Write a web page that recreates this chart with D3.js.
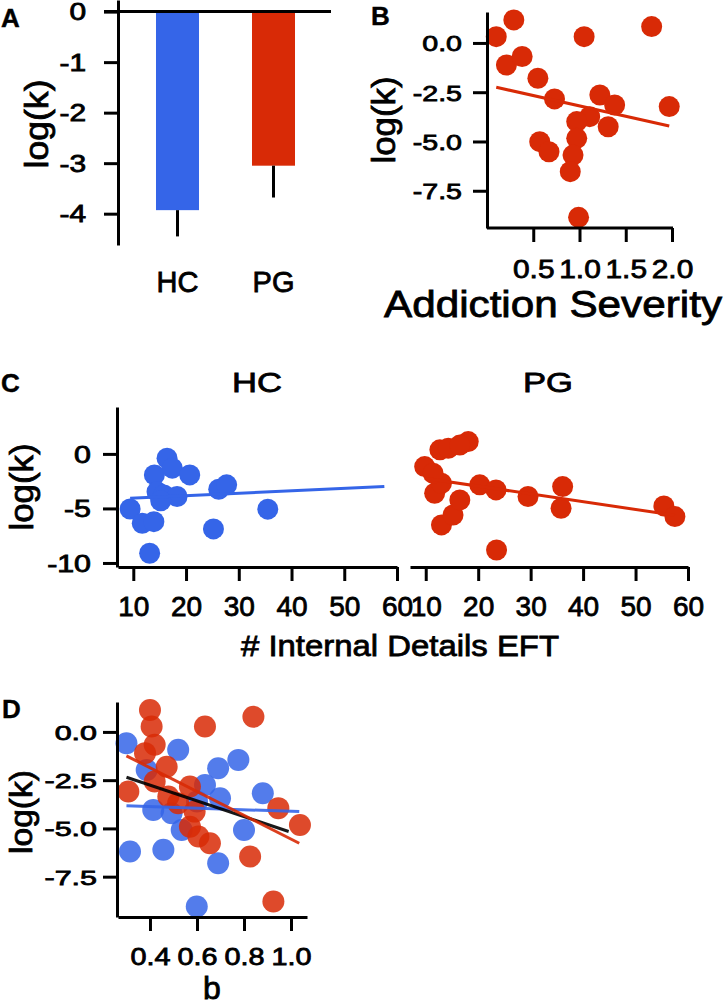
<!DOCTYPE html>
<html>
<head>
<meta charset="utf-8">
<script src="https://cdn.jsdelivr.net/npm/d3@7"></script>
<style>
  html, body { margin: 0; padding: 0; background: #fff; }
  svg { display: block; }
  text { font-family: "Liberation Sans", Arial, Helvetica, sans-serif; fill: #000; stroke: #000; stroke-width: 0.8px; }
  text.bold { stroke-width: 0.4px; }
</style>
</head>
<body>
<svg id="chart" width="725" height="1008"></svg>
<script>
// ---------- DATA ----------
// Panel A: group means of log(k)
const barCategories = ["HC", "PG"];
const barMeans = [-3.93, -3.05];
const barErrors = [0.52, 0.63];
const yTicksA = [0, -1, -2, -3, -4];

// Panel B: PG, addiction severity vs log(k)
const severityX = [0.10, 0.29, 0.21, 0.38, 0.55, 0.73, 0.57, 0.67, 1.05, 1.78, 1.97, 1.22, 1.38, 1.31, 1.11, 0.97, 0.97, 0.93, 0.90, 0.99];
const severityY = [0.32, 1.17, -1.12, -0.69, -1.79, -2.84, -5.01, -5.52, 0.32, 0.83, -3.23, -2.64, -3.15, -4.25, -3.74, -3.99, -4.84, -5.69, -6.53, -8.85];
const severityFitX = [0.10, 1.97];
const severityFitY = [-2.25, -4.21];
const xTicksB = [0.5, 1.0, 1.5, 2.0];
const yTicksB = [0, -2.5, -5, -7.5];

// Panel C: # internal details EFT vs log(k)
const eftHCx = [9.4, 11.7, 13.9, 13.1, 14.0, 16.4, 17.4, 20.7, 14.5, 15.8, 18.3, 15.2, 26.2, 27.7, 25.2, 35.5];
const eftHCy = [-5.05, -6.36, -6.21, -9.11, -1.93, -0.40, -1.31, -1.93, -3.46, -3.76, -3.91, -4.3, -3.24, -2.84, -6.88, -5.07];
const eftHCFitX = [9.4, 57.6];
const eftHCFitY = [-4.07, -3.0];
const eftPGx = [9.8, 11.7, 12.7, 14.3, 13.0, 15.2, 16.5, 18.1, 16.5, 13.0, 11.4, 20.3, 23.4, 23.5, 29.5, 36.1, 35.8, 55.4, 57.5];
const eftPGy = [-1.16, -3.61, 0.37, 0.52, -6.51, -5.60, -4.22, 1.13, 0.81, -2.69, -1.77, -2.84, -3.30, -8.81, -3.91, -3.00, -4.98, -4.77, -5.75];
const eftPGFitX = [9.8, 57.5];
const eftPGFitY = [-2.23, -5.63];
const xTicksC = [10, 20, 30, 40, 50, 60];
const yTicksC = [0, -5, -10];
const facetTitles = ["HC", "PG"];

// Panel D: b vs log(k)
const bHCx = [0.30, 0.52, 0.386, 0.69, 0.776, 0.634, 0.698, 0.88, 0.414, 0.492, 0.535, 0.80, 0.315, 0.457, 0.69, 0.599, 0.60];
const bHCy = [-0.59, -0.93, -1.97, -1.88, -1.45, -2.75, -3.44, -3.18, -4.04, -4.21, -5.08, -5.08, -6.20, -6.11, -6.80, -9.05, -3.6];
const bPGx = [0.40, 0.407, 0.42, 0.379, 0.471, 0.634, 0.84, 0.308, 0.42, 0.478, 0.52, 0.57, 0.59, 0.57, 0.606, 0.655, 0.946, 1.038, 0.826, 0.925];
const bPGy = [1.14, 0.28, -0.67, -1.10, -1.80, 0.28, 0.79, -3.09, -2.57, -3.35, -3.69, -2.83, -4.13, -4.91, -5.42, -5.77, -3.95, -4.82, -6.46, -8.79];
const bFitHCx = [0.30, 1.035];
const bFitHCy = [-3.83, -4.13];
const bFitAllx = [0.30, 0.99];
const bFitAlly = [-2.35, -5.16];
const bFitPGx = [0.30, 1.035];
const bFitPGy = [-1.24, -5.77];
const xTicksD = [0.4, 0.6, 0.8, 1.0];
const yTicksD = [0, -2.5, -5, -7.5];

// ---------- STYLE ----------
const BLUE = "#3565E8";
const RED = "#D82A06";
const AXW = 3;
const TICK = 14;
const svg = d3.select("#chart");

function styleAxis(g) {
  g.selectAll("path.domain").attr("stroke", "#000").attr("stroke-width", AXW);
  g.selectAll(".tick line").attr("stroke", "#000").attr("stroke-width", AXW);
  g.selectAll(".tick text").attr("font-family", null).attr("fill", null);
}
function yAxisDraw(x, scale, ticks, fmt, fontSize, sx, gap) {
  const g = svg.append("g").attr("transform", `translate(${x},0)`)
    .call(d3.axisLeft(scale).tickValues(ticks).tickFormat(fmt).tickSize(TICK).tickSizeOuter(0));
  styleAxis(g);
  g.selectAll(".tick text")
    .attr("font-size", fontSize)
    .attr("x", -gap / sx)
    .attr("dy", "0.36em")
    .attr("transform", `scale(${sx},1)`);
  return g;
}
function xAxisDraw(y, scale, ticks, fmt, fontSize, sx, dy) {
  const g = svg.append("g").attr("transform", `translate(0,${y})`)
    .call(d3.axisBottom(scale).tickValues(ticks).tickFormat(fmt).tickSize(TICK).tickSizeOuter(0));
  styleAxis(g);
  g.selectAll(".tick text")
    .attr("font-size", fontSize)
    .attr("y", dy)
    .attr("dy", 0)
    .attr("transform", `scale(${sx},1)`);
  return g;
}
function label(txt, x, y, size, opts = {}) {
  const t = svg.append("text").text(txt)
    .attr("x", x).attr("y", y).attr("font-size", size)
    .attr("text-anchor", opts.anchor || "middle")
    .attr("font-weight", opts.weight || "normal");
  if (opts.weight === "bold") t.attr("class", "bold");
  if (opts.len) t.attr("textLength", opts.len).attr("lengthAdjust", "spacingAndGlyphs");
  if (opts.rotate) t.attr("transform", `rotate(-90,${x},${y})`);
  return t;
}
const fmt0 = d => String(d);
const fmt1 = d => d.toFixed(1);

// ---------- PANEL A ----------
const yA = d3.scaleLinear().domain([0.23, -4.62]).range([0, 245]);
const xA = d3.scaleBand().domain(barCategories).range([129.5, 321.5]).paddingInner(0.552).paddingOuter(0.276);

svg.append("g").selectAll("rect").data(barCategories).join("rect")
  .attr("x", d => xA(d))
  .attr("width", xA.bandwidth())
  .attr("y", yA(0))
  .attr("height", (d, i) => yA(barMeans[i]) - yA(0))
  .attr("fill", (d, i) => i === 0 ? BLUE : RED);
svg.append("g").selectAll("line").data(barCategories).join("line")
  .attr("x1", d => xA(d) + xA.bandwidth() / 2)
  .attr("x2", d => xA(d) + xA.bandwidth() / 2)
  .attr("y1", (d, i) => yA(barMeans[i]))
  .attr("y2", (d, i) => yA(barMeans[i] - barErrors[i]))
  .attr("stroke", "#000").attr("stroke-width", 3);
yAxisDraw(118, yA, yTicksA, fmt0, 23, 1.3, 32);
svg.append("line").attr("x1", 104).attr("x2", 331).attr("y1", yA(0)).attr("y2", yA(0))
  .attr("stroke", "#000").attr("stroke-width", AXW);
svg.append("g").selectAll("text").data(barCategories).join("text")
  .attr("x", d => xA(d) + xA.bandwidth() / 2)
  .attr("y", 292)
  .attr("text-anchor", "middle")
  .attr("font-size", 29)
  .text(d => d);
label("log(k)", 48, 124, 34, { rotate: true, len: 89 });
label("A", 1, 27, 26, { anchor: "start", weight: "bold" });

// ---------- PANEL B ----------
const xB = d3.scaleLinear().domain([0, 2.0]).range([487, 672]);
const yB = d3.scaleLinear().domain([1.57, -9.39]).range([12, 228]);
svg.append("g").selectAll("circle").data(severityX).join("circle")
  .attr("cx", d => xB(d)).attr("cy", (d, i) => yB(severityY[i]))
  .attr("r", 10.5).attr("fill", RED);
svg.append("line")
  .attr("x1", xB(severityFitX[0])).attr("y1", yB(severityFitY[0]))
  .attr("x2", xB(severityFitX[1])).attr("y2", yB(severityFitY[1]))
  .attr("stroke", RED).attr("stroke-width", 3);
yAxisDraw(487, yB, yTicksB, fmt1, 22, 1.3, 25);
const gBx = xAxisDraw(228, xB, xTicksB, fmt1, 26, 1.15, 50);
gBx.select("path.domain").attr("d", `M487,0H673`);
label("log(k)", 395, 120, 34, { rotate: true, len: 87 });
label("Addiction Severity", 553, 317, 36, { len: 338 });
label("B", 371, 25, 26, { anchor: "start", weight: "bold" });

// ---------- PANEL C ----------
const yC = d3.scaleLinear().domain([4.3, -10.37]).range([407, 567]);
const xCH = d3.scaleLinear().domain([7.1, 60]).range([118, 397]);
const xCP = d3.scaleLinear().domain([7.0, 60]).range([410, 688]);
svg.append("g").selectAll("circle").data(eftHCx).join("circle")
  .attr("cx", d => xCH(d)).attr("cy", (d, i) => yC(eftHCy[i]))
  .attr("r", 10.5).attr("fill", BLUE);
svg.append("line")
  .attr("x1", xCH(eftHCFitX[0])).attr("y1", yC(eftHCFitY[0]))
  .attr("x2", xCH(eftHCFitX[1])).attr("y2", yC(eftHCFitY[1]))
  .attr("stroke", BLUE).attr("stroke-width", 3);
svg.append("g").selectAll("circle").data(eftPGx).join("circle")
  .attr("cx", d => xCP(d)).attr("cy", (d, i) => yC(eftPGy[i]))
  .attr("r", 10.5).attr("fill", RED);
svg.append("line")
  .attr("x1", xCP(eftPGFitX[0])).attr("y1", yC(eftPGFitY[0]))
  .attr("x2", xCP(eftPGFitX[1])).attr("y2", yC(eftPGFitY[1]))
  .attr("stroke", RED).attr("stroke-width", 3);
yAxisDraw(117, yC, yTicksC, fmt0, 23, 1.32, 26);
xAxisDraw(567, xCH, xTicksC, fmt0, 28, 1.0, 49);
xAxisDraw(567, xCP, xTicksC, fmt0, 28, 1.0, 49);
label(facetTitles[0], 257, 392, 28, { len: 50 });
label(facetTitles[1], 548, 392, 28, { len: 50 });
label("log(k)", 33, 487, 34, { rotate: true, len: 87 });
label("# Internal Details EFT", 400, 656, 30, { len: 318 });
label("C", 1, 392, 26, { anchor: "start", weight: "bold" });

// ---------- PANEL D ----------
const xD = d3.scaleLinear().domain([0.264, 1.068]).range([118, 307]);
const yD = d3.scaleLinear().domain([1.55, -9.59]).range([702, 917]);
svg.append("g").selectAll("circle").data(bHCx).join("circle")
  .attr("cx", d => xD(d)).attr("cy", (d, i) => yD(bHCy[i]))
  .attr("r", 11).attr("fill", BLUE).attr("fill-opacity", 0.85);
svg.append("g").selectAll("circle").data(bPGx).join("circle")
  .attr("cx", d => xD(d)).attr("cy", (d, i) => yD(bPGy[i]))
  .attr("r", 11).attr("fill", RED).attr("fill-opacity", 0.85);
const fits = [[bFitHCx, bFitHCy, BLUE], [bFitAllx, bFitAlly, "#000"], [bFitPGx, bFitPGy, RED]];
fits.forEach(([fx, fy, c]) => {
  svg.append("line")
    .attr("x1", xD(fx[0])).attr("y1", yD(fy[0]))
    .attr("x2", xD(fx[1])).attr("y2", yD(fy[1]))
    .attr("stroke", c).attr("stroke-width", 3).attr("stroke-opacity", 0.9);
});
yAxisDraw(117, yD, yTicksD, fmt1, 21, 1.45, 20);
xAxisDraw(917, xD, xTicksD, fmt1, 24, 1.2, 48);
label("log(k)", 32, 812, 32, { rotate: true, len: 84 });
label("b", 212, 999, 32);
label("D", 2, 718, 26, { anchor: "start", weight: "bold" });
</script>
</body>
</html>
